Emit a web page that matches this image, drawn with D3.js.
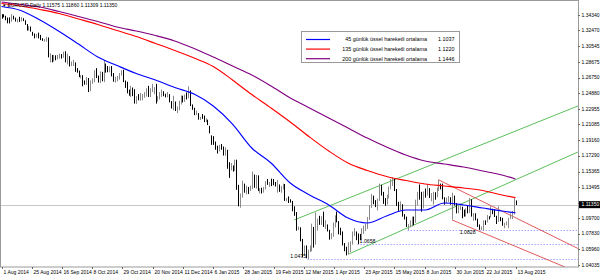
<!DOCTYPE html>
<html><head><meta charset="utf-8">
<script src="https://cdn.jsdelivr.net/npm/d3@7"></script>
<style>body{margin:0;background:#fff}svg{display:block}text{font-family:"Liberation Sans",Arial,sans-serif}</style>
</head><body><svg id="c" width="600" height="276"></svg>
<script>
// Daily bars, EURUSD, 1 Aug 2014 .. 13 Aug 2015 (index = trading day)
const highs=[1.3444,1.3443,1.3425,1.3403,1.3405,1.3444,1.3425,1.3402,1.3387,1.3412,1.3410,1.3395,1.3370,1.3325,1.3300,1.3294,1.3230,1.3210,1.3204,1.3220,1.3193,
1.3153,1.3143,1.3170,1.3162,1.2970,1.2950,1.2950,1.2945,1.2950,1.2965,1.2960,1.2990,1.2995,1.2965,1.2935,1.2870,1.2890,1.2860,1.2790,1.2760,1.2705,1.2705,
1.2640,1.2680,1.2670,1.2640,1.2665,1.2765,1.2790,1.2700,1.2750,1.2745,1.2887,1.2845,1.2815,1.2810,1.2815,1.2730,1.2685,1.2695,1.2730,1.2765,1.2770,1.2640,1.2625,
1.2530,1.2575,1.2555,1.2535,1.2450,1.2475,1.2490,1.2475,1.2500,1.2545,1.2575,1.2545,1.2600,1.2560,1.2600,1.2450,1.2500,1.2530,1.2510,1.2480,
1.2500,1.2475,1.2390,1.2455,1.2385,1.2325,1.2395,1.2460,1.2455,1.2470,1.2495,1.2570,1.2520,1.2350,1.2310,1.2275,1.2245,1.2200,1.2235,1.2215,1.2180,1.2165,
1.2090,1.1975,1.1965,1.1900,1.1850,1.1860,1.1870,1.1840,1.1830,1.1800,1.1650,1.1640,1.1610,1.1680,1.1680,1.1375,1.1270,1.1425,1.1390,1.1365,1.1350,
1.1365,1.1535,1.1500,1.1495,1.1490,1.1335,1.1340,1.1350,1.1420,1.1445,1.1410,1.1450,1.1445,1.1410,1.1435,1.1380,1.1360,1.1390,1.1385,1.1215,
1.1235,1.1200,1.1180,1.1115,1.1045,1.0870,1.0860,1.0720,1.0640,1.0640,1.0590,1.0640,1.0905,1.0865,1.1040,1.0965,1.1000,1.0995,1.1050,1.0945,1.0895,1.0830,
1.0790,1.0920,1.1005,1.1050,1.0935,1.0855,1.0810,1.0670,1.0625,1.0680,1.0690,1.0810,1.0850,1.0810,1.0785,1.0780,1.0850,1.0880,1.0905,1.0985,1.1130,1.1265,
1.1245,1.1190,1.1210,1.1390,1.1375,1.1290,1.1215,1.1255,1.1355,1.1445,1.1467,1.1450,1.1325,1.1170,1.1175,1.1140,1.1020,1.0990,1.0900,1.0945,1.0990,
1.0990,1.1195,1.1290,1.1380,1.1290,1.1295,1.1330,1.1385,1.1335,1.1275,1.1290,1.1285,1.1345,1.1436,1.1390,1.1390,1.1225,1.1220,1.1240,1.1225,1.1280,1.1245,
1.1155,1.1120,1.1125,1.1110,1.1075,1.1090,1.1125,1.1215,1.1200,1.1035,1.1030,1.0965,1.0895,1.0870,1.0945,1.0945,1.1010,1.0995,1.1115,1.1085,1.1080,1.1000,1.1115,
1.0985,1.0975,1.0915,1.0930,1.0975,1.1030,1.1060,1.1215,1.1186];
const lows=[1.3388,1.3405,1.3370,1.3333,1.3332,1.3352,1.3380,1.3355,1.3343,1.3350,1.3355,1.3360,1.3315,1.3245,1.3244,1.3233,1.3183,1.3151,1.3160,1.3150,1.3130,
1.3120,1.3110,1.3112,1.2920,1.2860,1.2860,1.2870,1.2885,1.2895,1.2905,1.2905,1.2915,1.2860,1.2835,1.2810,1.2815,1.2815,1.2745,1.2735,1.2680,1.2665,1.2570,
1.2590,1.2585,1.2500,1.2510,1.2600,1.2620,1.2670,1.2615,1.2610,1.2630,1.2620,1.2735,1.2740,1.2740,1.2690,1.2625,1.2615,1.2630,1.2650,1.2700,1.2620,1.2550,1.2485,
1.2455,1.2440,1.2450,1.2360,1.2357,1.2400,1.2395,1.2400,1.2430,1.2445,1.2440,1.2440,1.2500,1.2475,1.2360,1.2385,1.2410,1.2440,1.2450,1.2435,
1.2435,1.2375,1.2300,1.2280,1.2270,1.2245,1.2280,1.2350,1.2375,1.2380,1.2410,1.2425,1.2330,1.2285,1.2220,1.2220,1.2165,1.2160,1.2175,1.2135,1.2135,1.2100,
1.2000,1.1860,1.1860,1.1800,1.1755,1.1780,1.1800,1.1730,1.1730,1.1570,1.1460,1.1550,1.1535,1.1545,1.1315,1.1115,1.1098,1.1220,1.1280,1.1260,1.1265,
1.1300,1.1325,1.1340,1.1330,1.1300,1.1270,1.1270,1.1280,1.1320,1.1375,1.1350,1.1360,1.1370,1.1355,1.1280,1.1290,1.1280,1.1320,1.1180,1.1175,
1.1155,1.1160,1.1055,1.1000,1.0820,1.0825,1.0690,1.0495,1.0515,1.0485,1.0475,1.0560,1.0570,1.0615,1.0650,1.0820,1.0890,1.0890,1.0865,1.0840,1.0810,1.0710,
1.0715,1.0745,1.0860,1.0920,1.0775,1.0765,1.0640,1.0570,1.0520,1.0530,1.0560,1.0650,1.0755,1.0705,1.0658,1.0705,1.0705,1.0780,1.0815,1.0840,1.0950,1.1095,
1.1140,1.1105,1.1065,1.1180,1.1245,1.1145,1.1120,1.1135,1.1210,1.1320,1.1360,1.1300,1.1120,1.1060,1.1065,1.0990,1.0955,1.0865,1.0828,1.0860,1.0870,
1.0885,1.0915,1.1125,1.1195,1.1050,1.1090,1.1220,1.1245,1.1215,1.1175,1.1135,1.1195,1.1225,1.1300,1.1320,1.1200,1.1135,1.1150,1.1165,1.1135,1.0955,1.1125,
1.1030,1.1030,1.1070,1.0970,1.0990,1.0990,1.1030,1.1035,1.0990,1.0940,1.0945,1.0865,1.0830,1.0829,1.0820,1.0890,1.0920,1.0955,1.0980,1.1020,1.0985,1.0900,1.0925,
1.0935,1.0880,1.0850,1.0885,1.0850,1.0960,1.0960,1.1015,1.1131];
const closes=[1.3428,1.3417,1.3378,1.3375,1.3362,1.3413,1.3378,1.3363,1.3367,1.3363,1.3401,1.3366,1.3319,1.3256,1.3283,1.3240,1.3191,1.3170,1.3195,1.3183,1.3132,
1.3130,1.3132,1.3150,1.2943,1.2950,1.2892,1.2940,1.2917,1.2925,1.2963,1.2950,1.2960,1.2865,1.2920,1.2830,1.2850,1.2850,1.2765,1.2750,1.2684,1.2685,1.2630,
1.2625,1.2670,1.2520,1.2630,1.2650,1.2750,1.2685,1.2630,1.2740,1.2655,1.2830,1.2810,1.2760,1.2800,1.2710,1.2640,1.2650,1.2670,1.2700,1.2730,1.2630,1.2615,1.2525,
1.2480,1.2550,1.2490,1.2380,1.2450,1.2410,1.2430,1.2440,1.2480,1.2525,1.2450,1.2530,1.2540,1.2545,1.2390,1.2440,1.2470,1.2505,1.2465,1.2450,
1.2470,1.2380,1.2310,1.2375,1.2290,1.2310,1.2380,1.2440,1.2410,1.2460,1.2440,1.2510,1.2340,1.2290,1.2230,1.2230,1.2170,1.2190,1.2180,1.2150,1.2155,1.2100,
1.2000,1.1935,1.1890,1.1840,1.1790,1.1840,1.1830,1.1770,1.1775,1.1630,1.1565,1.1605,1.1560,1.1610,1.1365,1.1200,1.1240,1.1380,1.1290,1.1320,1.1290,
1.1345,1.1480,1.1345,1.1480,1.1315,1.1320,1.1310,1.1330,1.1400,1.1390,1.1415,1.1410,1.1405,1.1375,1.1380,1.1330,1.1330,1.1370,1.1195,1.1195,
1.1185,1.1175,1.1075,1.1030,1.0845,1.0850,1.0700,1.0550,1.0630,1.0490,1.0570,1.0595,1.0865,1.0655,1.0825,1.0940,1.0920,1.0965,1.0890,1.0890,1.0830,1.0730,
1.0765,1.0885,1.0980,1.0925,1.0800,1.0780,1.0655,1.0600,1.0570,1.0660,1.0680,1.0765,1.0805,1.0740,1.0730,1.0725,1.0825,1.0870,1.0890,1.0985,1.1125,1.1225,
1.1200,1.1150,1.1190,1.1350,1.1270,1.1200,1.1160,1.1215,1.1345,1.1400,1.1445,1.1315,1.1150,1.1095,1.1095,1.1010,1.0980,1.0875,1.0875,1.0900,1.0985,
1.0925,1.1150,1.1245,1.1240,1.1115,1.1290,1.1285,1.1320,1.1250,1.1260,1.1280,1.1240,1.1335,1.1365,1.1350,1.1200,1.1160,1.1200,1.1200,1.1165,1.1235,1.1150,
1.1055,1.1085,1.1110,1.1055,1.1010,1.1085,1.1040,1.1160,1.1000,1.1000,1.0950,1.0875,1.0830,1.0830,1.0935,1.0930,1.0985,1.0980,1.1090,1.1060,1.0990,1.0930,1.0980,
1.0950,1.0890,1.0905,1.0925,1.0970,1.1020,1.1040,1.1165,1.1135];
const lastBar={open:"1.11575",high:"1.11860",low:"1.11309",close:"1.11350"};

// Moving averages, read at sampled bars
const emaIdx=[0,10,20,30,40,50,60,70,80,90,100,110,120,130,140,150,160,170,180,190,200,210,220,230,240,250,260,267];
const ema45=[1.3537,1.3489,1.3373,1.3234,1.3082,1.2925,1.2822,1.2725,1.2646,1.2555,1.2476,1.2331,1.2112,1.1822,1.1640,1.1397,1.1252,1.1131,1.0973,1.0913,1.0998,1.1070,1.1070,1.1155,1.1131,1.1094,1.1058,1.1037];
const ema135=[1.3573,1.3543,1.3501,1.3452,1.3386,1.3319,1.3246,1.3173,1.3089,1.3004,1.2913,1.2810,1.2646,1.2470,1.2307,1.2137,1.1955,1.1785,1.1640,1.1549,1.1476,1.1428,1.1385,1.1361,1.1337,1.1307,1.1252,1.1220];
const ema200=[1.3592,1.3561,1.3531,1.3476,1.3416,1.3355,1.3289,1.3240,1.3185,1.3119,1.3028,1.2925,1.2816,1.2707,1.2573,1.2428,1.2307,1.2185,1.2064,1.1943,1.1834,1.1737,1.1664,1.1628,1.1591,1.1543,1.1494,1.1446];
const legendNames=["45 günlük üssel hareketli ortalama","135 günlük üssel hareketli ortalama","200 günlük üssel hareketli ortalama"];
const legendValues=["1.1037","1.1220","1.1446"];
const legendColors=["#0000ff","#ff0000","#800080"];

// Axis labels (time labels sit at equal pixel steps, given here as bar positions)
const yTicks=["1.34340","1.32470","1.30545","1.28675","1.26750","1.24880","1.22955","1.21085","1.19160","1.17290","1.15365","1.13495","1.11570","1.09700","1.07830","1.05960","1.04035"];
const xLabelIdx=[0,15.7,31.4,47.1,62.8,78.5,94.2,110,125.6,141.3,157,172.7,188.4,204.1,219.8,235.5,251.2,267];
const xLabels=["1 Aug 2014","25 Aug 2014","16 Sep 2014","8 Oct 2014","29 Oct 2014","20 Nov 2014","11 Dec 2014","6 Jan 2015","28 Jan 2015","19 Feb 2015","12 Mar 2015","1 Apr 2015","23 Apr 2015","15 May 2015","8 Jun 2015","30 Jun 2015","22 Jul 2015","13 Aug 2015"];

// Drawn objects: trend lines [idxA, priceA, idxB, priceB]
const greenLines=[[152,1.0949,299.4,1.2331],[180.4,1.0537,299.4,1.1773]];
const redLines=[[227,1.1436,299.4,1.0604],[234,1.0950,292.7,1.0379]];
const levelIdx=[159,185,211];
const levelPrice=[1.0475,1.0658,1.0828];
const levelLabels=["1.0475","1.0658","1.0828"];
const levelLabelIdx=[150,186,238];

const W=600,H=276,PR=578,PB=267;
const svg=d3.select("#c");
const x=d3.scaleLinear().domain([0,267]).range([1.5,515.5]);
const y=d3.scaleLinear().domain([1.04035,1.34340]).range([265,15]);
const defs=svg.append("defs");
defs.append("clipPath").attr("id","pc").append("rect").attr("x",0).attr("y",1).attr("width",PR).attr("height",PB-1);
const plot=svg.append("g").attr("clip-path","url(#pc)");

// current price line
const lastClose=closes[closes.length-1];
const cyr=Math.round(y(lastClose))+0.5;
plot.append("line").attr("x1",0).attr("x2",PR).attr("y1",cyr).attr("y2",cyr).attr("stroke","#c8c8c8").attr("stroke-width",1);

// level dotted lines
levelIdx.forEach((li,k)=>{
  const yy=Math.round(y(levelPrice[k]))+0.5;
  plot.append("line").attr("x1",x(li)).attr("x2",PR).attr("y1",yy).attr("y2",yy).attr("stroke","#7b7bff").attr("stroke-width",1).attr("stroke-dasharray","1,2");
});

// trend lines
function seg(l,color){
  const [i1,p1,i2,p2]=l;
  plot.append("line").attr("x1",x(i1)).attr("y1",y(p1)).attr("x2",x(i2)).attr("y2",y(p2)).attr("stroke",color).attr("stroke-width",1);
}
greenLines.forEach(l=>seg(l,"#5cbf5c"));
redLines.forEach(l=>seg(l,"#e05a5a"));

// bars
plot.append("g").selectAll("line").data(closes).join("line")
  .attr("x1",(d,i)=>Math.round(x(i))+0.5).attr("x2",(d,i)=>Math.round(x(i))+0.5)
  .attr("y1",(d,i)=>y(highs[i])).attr("y2",(d,i)=>y(lows[i]))
  .attr("stroke",(d,i)=>i>0&&d>=closes[i-1]?"#8a8a8a":"#000").attr("stroke-width",1);

// EMAs
const line=d3.line().x(d=>x(d[0])).y(d=>y(d[1])).curve(d3.curveMonotoneX);
[[ema200,"#800080"],[ema135,"#ff0000"],[ema45,"#0000ff"]].forEach(([arr,c])=>{
  plot.append("path").datum(emaIdx.map((i,k)=>[i,arr[k]])).attr("d",line).attr("fill","none").attr("stroke",c).attr("stroke-width",1.15);
});

// level labels
levelLabels.forEach((t,k)=>{
  plot.append("text").attr("x",x(levelLabelIdx[k])).attr("y",y(levelPrice[k])+(k===2?4:-1.2)).attr("font-size",5.2).attr("fill","#000").text(t);
});

// frame
svg.append("rect").attr("x",0.5).attr("y",0.5).attr("width",PR).attr("height",PB-0.5).attr("fill","none").attr("stroke","#9a9a9a");

// y axis
const cy=y(lastClose);
yTicks.forEach(t=>{
  const yy=y(+t);
  svg.append("line").attr("x1",PR).attr("x2",PR+2).attr("y1",Math.round(yy)+0.5).attr("y2",Math.round(yy)+0.5).attr("stroke","#666");
  if(Math.abs(yy-cy)>6) svg.append("text").attr("x",PR+3.5).attr("y",yy+1.8).attr("font-size",5).attr("fill","#000").text(t);
});
// current price box
svg.append("rect").attr("x",PR+1).attr("y",cy-3.5).attr("width",W-PR-1).attr("height",7).attr("fill","#000");
svg.append("text").attr("x",PR+3.5).attr("y",cy+1.8).attr("font-size",5).attr("fill","#fff").text(lastBar.close);

// x axis
xLabelIdx.forEach((i,k)=>{
  const xx=Math.round(x(i))+0.5;
  svg.append("line").attr("x1",xx).attr("x2",xx).attr("y1",PB).attr("y2",PB+2).attr("stroke","#666");
  svg.append("text").attr("x",xx+1).attr("y",PB+6.5).attr("font-size",5).attr("fill","#000").text(xLabels[k]);
});

// header
svg.append("text").attr("x",3).attr("y",7).attr("font-size",5).attr("fill","#000")
  .text("\u25BE EURUSD,Daily  "+lastBar.open+" "+lastBar.high+" "+lastBar.low+" "+lastBar.close);

// legend
const lg=svg.append("g");
lg.append("rect").attr("x",301.5).attr("y",31.5).attr("width",158).attr("height",31).attr("fill","#fff").attr("stroke","#9a9a9a");
legendNames.forEach((n,k)=>{
  const yy=39.5+k*9.6;
  lg.append("line").attr("x1",306).attr("x2",330).attr("y1",yy).attr("y2",yy).attr("stroke",legendColors[k]).attr("stroke-width",1.2);
  lg.append("text").attr("x",427).attr("y",yy+1.9).attr("text-anchor","end").attr("font-size",5.4).attr("fill","#000").text(n);
  lg.append("text").attr("x",438).attr("y",yy+1.9).attr("font-size",5.4).attr("fill","#000").text(legendValues[k]);
});
</script></body></html>
